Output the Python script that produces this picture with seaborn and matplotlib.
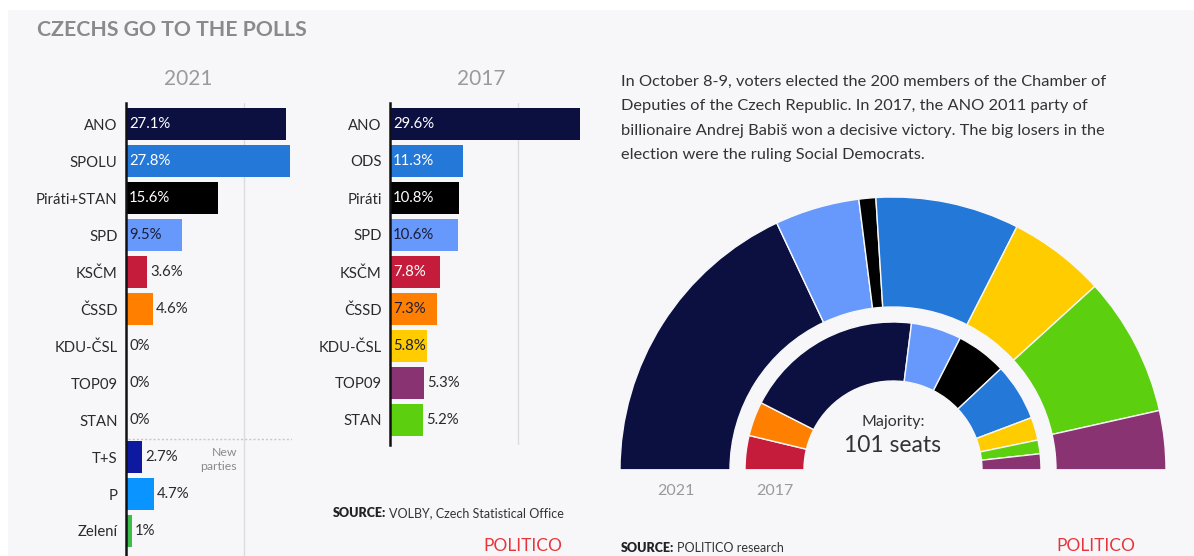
import matplotlib
matplotlib.use("Agg")
import matplotlib.pyplot as plt
import seaborn as sns
import pandas as pd
from matplotlib.patches import Rectangle

# ---------------- data ----------------
parties_2021 = ["ANO", "SPOLU", "Piráti+STAN", "SPD", "KSČM", "ČSSD", "KDU-ČSL",
                "TOP09", "STAN", "T+S", "P", "Zelení"]
votes_2021 = [27.1, 27.8, 15.6, 9.5, 3.6, 4.6, 0, 0, 0, 2.7, 4.7, 1]
labels_2021 = ["27.1%", "27.8%", "15.6%", "9.5%", "3.6%", "4.6%", "0%", "0%", "0%",
               "2.7%", "4.7%", "1%"]

parties_2017 = ["ANO", "ODS", "Piráti", "SPD", "KSČM", "ČSSD", "KDU-ČSL", "TOP09", "STAN"]
votes_2017 = [29.6, 11.3, 10.8, 10.6, 7.8, 7.3, 5.8, 5.3, 5.2]
labels_2017 = ["29.6%", "11.3%", "10.8%", "10.6%", "7.8%", "7.3%", "5.8%", "5.3%", "5.2%"]

seat_parties_2021 = ["ANO", "SPD", "Piráti", "ODS", "KDU-ČSL", "STAN", "TOP09"]
seats_2021 = [72, 20, 4, 34, 23, 33, 14]
seat_parties_2017 = ["KSČM", "ČSSD", "ANO", "SPD", "Piráti", "ODS", "KDU-ČSL", "STAN", "TOP09"]
seats_2017 = [15, 15, 78, 22, 22, 25, 10, 6, 7]

colors = {
    "ANO": "#0b1041", "SPOLU": "#2478d8", "ODS": "#2478d8", "Piráti+STAN": "#000000",
    "Piráti": "#000000", "SPD": "#6699fb", "KSČM": "#c61c3c", "ČSSD": "#ff8000",
    "KDU-ČSL": "#ffcc00", "TOP09": "#8a3372", "STAN": "#5ccf0f", "T+S": "#0d1aa0",
    "P": "#0a94ff", "Zelení": "#3dbd4a",
}
dark_text_on = {"SPD", "ČSSD", "KDU-ČSL"}

# ---------------- figure ----------------
W, H = 1194, 556
sns.set_theme(style="white")
plt.rcParams["font.family"] = ["Lato", "DejaVu Sans"]
fig = plt.figure(figsize=(W / 100, H / 100), dpi=100, facecolor="white")
BG = "#f7f7f9"
fig.patches.append(Rectangle((8 / W, 0), 1, 1 - 10 / H, transform=fig.transFigure,
                             facecolor=BG, edgecolor="none", zorder=-10))


def fx(x):
    return x / W


def fy(y):
    return 1 - y / H


def add_axes_px(x0, y0, x1, y1):
    return fig.add_axes([fx(x0), fy(y1), fx(x1) - fx(x0), fy(y0) - fy(y1)])


ROW = 37.0
TOP_ROW = 124.0


def bar_panel(ax, parties, votes, labels, xmax, ymax):
    df = pd.DataFrame({"party": parties, "vote": votes})
    sns.barplot(data=df, x="vote", y="party", hue="party", palette=colors,
                order=parties, hue_order=parties, width=0.86, dodge=False,
                legend=False, ax=ax, saturation=1, edgecolor="none")
    ax.set_xlim(0, xmax)
    ax.set_ylim(ymax, -0.57)
    ax.set_facecolor("none")
    for s in ["top", "right", "bottom"]:
        ax.spines[s].set_visible(False)
    ax.spines["left"].set_color("#111111")
    ax.spines["left"].set_linewidth(1.8)
    ax.spines["left"].set_zorder(5)
    ax.axvline(20, color="#dcdcdc", lw=1, zorder=0)
    ax.set_xticks([])
    ax.set_xlabel("")
    ax.set_ylabel("")
    ax.tick_params(axis="y", length=0, pad=6, labelsize=10.7, labelcolor="#2a2a2a")
    ppx = xmax / (ax.get_position().width * W)
    for i, (p, v, lab) in enumerate(zip(parties, votes, labels)):
        if v >= 5.5:
            c = "#1b1d3a" if p in dark_text_on else "white"
            ax.text(3 * ppx, i, lab, va="center", ha="left", fontsize=10.7, color=c)
        else:
            ax.text(v + 3 * ppx, i, lab, va="center", ha="left", fontsize=10.7,
                    color="#2a2a2a")


# 2021 panel
xmax21 = 28.2
ax1 = add_axes_px(126, TOP_ROW - 0.57 * ROW, 126 + xmax21 * 5.9, TOP_ROW + 12.2 * ROW)
bar_panel(ax1, parties_2021, votes_2021, labels_2021, xmax21, 12.2)
ax1.plot([0.35, xmax21], [8.5, 8.5], ls=(0, (1.5, 1.5)), color="#c8c8c8", lw=1,
         zorder=1)
fig.text(fx(237), fy(453), "New", ha="right", va="center", fontsize=8.8, color="#8a8a8a")
fig.text(fx(237), fy(467), "parties", ha="right", va="center", fontsize=8.8,
         color="#8a8a8a")

# 2017 panel
xmax17 = 29.8
ax2 = add_axes_px(390, TOP_ROW - 0.57 * ROW, 390 + xmax17 * 6.42, TOP_ROW + 8.68 * ROW)
bar_panel(ax2, parties_2017, votes_2017, labels_2017, xmax17, 8.68)

# titles
fig.text(fx(37), fy(30), "CZECHS GO TO THE POLLS", ha="left", va="center",
         fontsize=15.3, fontweight="bold", color="#8a8a8a")
fig.text(fx(188), fy(79), "2021", ha="center", va="center", fontsize=15,
         color="#9a9a9a")
fig.text(fx(481), fy(79), "2017", ha="center", va="center", fontsize=15,
         color="#9a9a9a")

# paragraph
para = ("In October 8-9, voters elected the 200 members of the Chamber of\n"
        "Deputies of the Czech Republic. In 2017, the ANO 2011 party of\n"
        "billionaire Andrej Babiš won a decisive victory. The big losers in the\n"
        "election were the ruling Social Democrats.")
fig.text(fx(621), fy(75), para, ha="left", va="top", fontsize=11.8, color="#333333",
         linespacing=1.95)

# ---------------- parliament ----------------
CX, CY, R = 893, 470, 273
ax3 = add_axes_px(CX - 1.1 * R, CY - 1.05 * R, CX + 1.1 * R, CY + 0.25 * R)
ax3.set_facecolor("none")
full = sum(seats_2021)
ax3.pie(seats_2021 + [full], radius=1.0, startangle=180, counterclock=False,
        colors=[colors[p] for p in seat_parties_2021] + ["none"],
        wedgeprops=dict(width=1.0 - 163 / 273, edgecolor=BG, linewidth=1.0))
ax3.pie(seats_2017 + [sum(seats_2017)], radius=148 / 273, startangle=180,
        counterclock=False,
        colors=[colors[p] for p in seat_parties_2017] + ["none"],
        wedgeprops=dict(width=(148 - 89) / 273, edgecolor=BG, linewidth=1.0))
ax3.set_aspect("auto")
ax3.set_xlim(-1.1, 1.1)
ax3.set_ylim(-0.25, 1.05)
ax3.axis("off")

fig.text(fx(CX), fy(422), "Majority:", ha="center", va="center", fontsize=11.5,
         color="#333333")
fig.text(fx(CX), fy(446), "101 seats", ha="center", va="center", fontsize=16.5,
         color="#333333")
fig.text(fx(676), fy(491), "2021", ha="center", va="center", fontsize=11.5,
         color="#9a9a9a")
fig.text(fx(775), fy(491), "2017", ha="center", va="center", fontsize=11.5,
         color="#9a9a9a")

# ---------------- sources / logos ----------------
fig.canvas.draw()
renderer = fig.canvas.get_renderer()


def source(x, y, rest):
    t = fig.text(fx(x), fy(y), "SOURCE:", ha="left", va="center", fontsize=9.0,
                 fontweight="heavy", color="#222222")
    bb = t.get_window_extent(renderer)
    fig.text(bb.x1 / W + fx(3), fy(y), rest, ha="left", va="center", fontsize=9.0,
             color="#333333")


source(333, 513, "VOLBY, Czech Statistical Office")
source(621, 548, "POLITICO research")
for x in (523, 1096):
    fig.text(fx(x), fy(546), "POLITICO", ha="center", va="center", fontsize=12.5,
             color="#e8353b")

fig.savefig("out.png", dpi=100, facecolor="white")
